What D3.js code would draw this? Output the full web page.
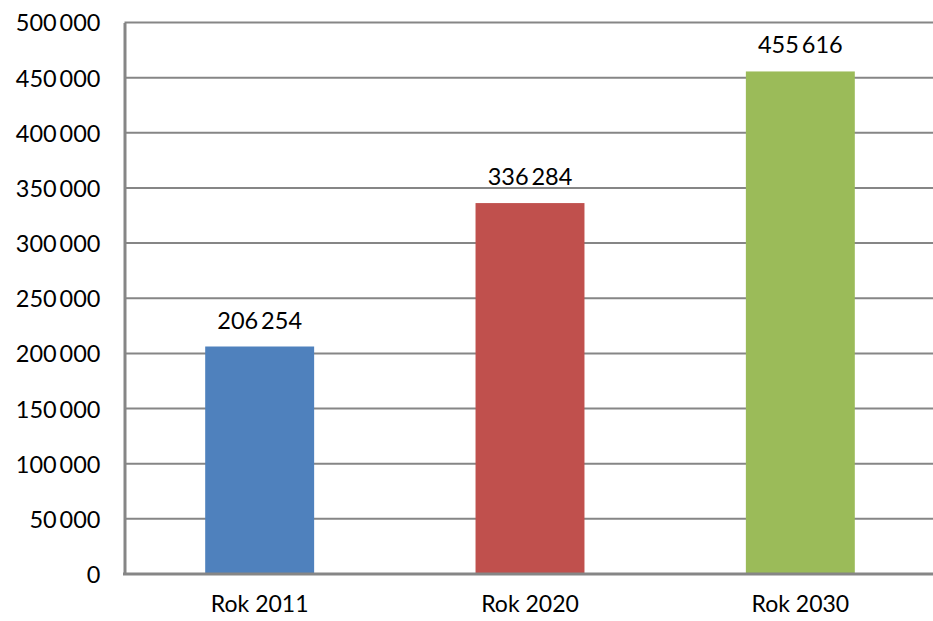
<!DOCTYPE html>
<html>
<head>
<meta charset="utf-8">
<script src="https://cdn.jsdelivr.net/npm/d3@7"></script>
<style>
  body { margin: 0; background: #fff; }
  svg text { font-family: Lato, "Open Sans", sans-serif; fill: #000; }
</style>
</head>
<body>
<div id="chart"></div>
<script>
// chart data
const categories = ["Rok 2011", "Rok 2020", "Rok 2030"];
const values = [206254, 336284, 455616];
const barColors = ["#4F81BD", "#C0504D", "#9BBB59"];
const yTicks = [0, 50000, 100000, 150000, 200000, 250000, 300000, 350000, 400000, 450000, 500000];

const width = 933, height = 621;
const plot = {left: 124.5, right: 935.5, top: 22.5, bottom: 574};

let svg = d3.select("#chart")
    .append("svg")
    .attr("width", width)
    .attr("height", height);

let x = d3.scaleBand()
    .domain(categories)
    .range([plot.left, plot.right])
    .paddingInner(0.597)
    .paddingOuter(0.2985);

let y = d3.scaleLinear()
    .domain([0, 500000])
    .range([plot.bottom, plot.top]);

// thin-space thousands separator, like the original
const fmt = function(v) { return d3.format(",")(v).replace(/,/g, "\u2009"); };

// gridlines (skip 0, that one is the axis)
svg.append("g")
    .selectAll("line")
    .data(yTicks.filter(function(d) { return d > 0; }))
    .enter()
    .append("line")
    .attr("x1", plot.left)
    .attr("x2", width)
    .attr("y1", function(d) { return y(d); })
    .attr("y2", function(d) { return y(d); })
    .attr("stroke", "#868686")
    .attr("stroke-width", 2);

// bars
svg.append("g")
    .selectAll("rect")
    .data(values)
    .enter()
    .append("rect")
    .attr("x", function(d, i) { return x(categories[i]); })
    .attr("y", function(d) { return y(d); })
    .attr("width", x.bandwidth())
    .attr("height", function(d) { return y(0) - y(d); })
    .attr("fill", function(d, i) { return barColors[i]; });

// value labels
svg.append("g")
    .selectAll("text")
    .data(values)
    .enter()
    .append("text")
    .attr("x", function(d, i) { return x(categories[i]) + x.bandwidth() / 2; })
    .attr("y", function(d) { return y(d) - 18; })
    .style("text-anchor", "middle")
    .style("font-size", "23.5px")
    .text(function(d) { return fmt(d); });

// y axis
let yAxis = svg.append("g")
    .attr("transform", `translate(${plot.left}, 0)`)
    .call(d3.axisLeft(y).tickValues(yTicks).tickSize(0).tickPadding(24).tickFormat(fmt));
yAxis.select(".domain").attr("stroke", "#868686").attr("stroke-width", 3);
yAxis.selectAll("text")
    .style("font-size", "23.5px")
    .attr("dy", "0.36em");

// x axis
let xAxis = svg.append("g")
    .attr("transform", `translate(0, ${plot.bottom})`)
    .call(d3.axisBottom(x).tickSize(0).tickPadding(22));
xAxis.select(".domain").remove();
xAxis.append("line")
    .attr("x1", plot.left - 1.5)
    .attr("x2", width)
    .attr("stroke", "#868686")
    .attr("stroke-width", 3);
xAxis.selectAll("text")
    .style("font-size", "23px");
</script>
</body>
</html>
